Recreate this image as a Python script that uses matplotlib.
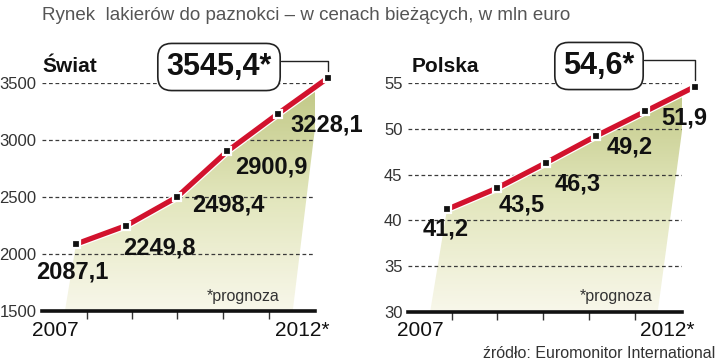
import matplotlib.pyplot as plt
import numpy as np
from matplotlib.patches import Polygon
from matplotlib.colors import LinearSegmentedColormap

# data
swiat = [2087.1, 2249.8, 2498.4, 2900.9, 3228.1, 3545.4]
polska = [41.2, 43.5, 46.3, 49.2, 51.9, 54.6]
swiat_labels = ['2087,1', '2249,8', '2498,4', '2900,9', '3228,1', '3545,4*']
polska_labels = ['41,2', '43,5', '46,3', '49,2', '51,9', '54,6*']
swiat_yticks = [1500, 2000, 2500, 3000, 3500]
polska_yticks = [30, 35, 40, 45, 50, 55]
year_first, year_last = '2007', '2012*'

title = 'Rynek  lakierów do paznokci \u2013 w cenach bieżących, w mln euro'
source = 'źródło: Euromonitor International'

RED = '#d2122d'
SANS = ['Liberation Sans', 'DejaVu Sans']
W, H = 720, 363

fig = plt.figure(figsize=(7.2, 3.63), dpi=100)


def px_box(left, top, right, bottom):
    return [left / W, 1 - bottom / H, (right - left) / W, (bottom - top) / H]


def ftext(x, y, s, **kw):
    fig.text(x / W, 1 - y / H, s, **kw)


cmap = LinearSegmentedColormap.from_list('fill', ['#f8f7ea', '#e2e6bc', '#c0c784'])


def draw_panel(ax, vals, labels, yticks, xlim, offsets, tick_x, fill_x, big_px):
    ax.set_xlim(*xlim)
    ax.set_ylim(yticks[0], yticks[-1])
    x = np.arange(len(vals))
    ymin = yticks[0]

    # gradient fill under the line (skewed shape)
    x_top = fill_x[2]
    v_top = vals[4] + (x_top - 4) * (vals[5] - vals[4])
    poly_x = [fill_x[0]] + list(x[:5]) + [x_top, fill_x[1]]
    poly_y = [ymin] + list(vals[:5]) + [v_top, ymin]
    poly = Polygon(np.column_stack([poly_x, poly_y]), closed=True,
                   facecolor='none', edgecolor='none', transform=ax.transData)
    ax.add_patch(poly)
    grad = np.linspace(1, 0, 200).reshape(-1, 1) * np.ones((1, 20))
    im = ax.imshow(grad, cmap=cmap, aspect='auto', origin='upper',
                   extent=[xlim[0], 5.2, ymin, yticks[-1]], zorder=1)
    im.set_clip_path(poly)
    ax.set_xlim(*xlim)
    ax.set_ylim(yticks[0], yticks[-1])

    # dashed grid
    ax.hlines(yticks[1:], xlim[0], xlim[1], colors='#3a3a3a', linestyles=(0, (3, 2.2)),
              lw=0.9, zorder=2)

    # line
    ax.plot(x, vals, color='white', lw=5.6, solid_capstyle='butt', zorder=3, clip_on=False)
    ax.plot(x, vals, color=RED, lw=3.8, solid_capstyle='butt', zorder=4, clip_on=False)
    ax.plot(x, vals, 's', color='#111111', ms=5.6, mec='white', mew=1.6, zorder=5,
            clip_on=False)

    for i in range(5):
        ax.annotate(labels[i], xy=(x[i], vals[i]), xytext=offsets[i],
                    textcoords='offset pixels', ha='center', va='center',
                    fontsize=17, fontweight='bold', family=SANS, color='#111111',
                    zorder=6, annotation_clip=False)

    ax.annotate(labels[5], xy=(x[5], vals[5]), xytext=big_px, textcoords='figure pixels',
                ha='center', va='center', fontsize=22, fontweight='bold', family=SANS,
                color='#111111', zorder=7, annotation_clip=False,
                bbox=dict(boxstyle='round,pad=0.28,rounding_size=0.45', fc='white',
                          ec='#222222', lw=1.2),
                arrowprops=dict(arrowstyle='-', color='#222222', lw=1,
                                connectionstyle='angle,angleA=0,angleB=90,rad=0',
                                relpos=(1, 0.7), shrinkA=0, shrinkB=5))

    # axes styling
    for s in ['top', 'right', 'left']:
        ax.spines[s].set_visible(False)
    ax.spines['bottom'].set_linewidth(2.6)
    ax.spines['bottom'].set_color('#111111')
    ax.spines['bottom'].set_zorder(6)
    ax.set_yticks(yticks)
    ax.set_yticklabels([str(t) for t in yticks], family=SANS, fontsize=12, color='#333333')
    ax.tick_params(axis='y', length=0, pad=4)
    ax.set_xticks(tick_x)
    ax.set_xticklabels([])
    ax.tick_params(axis='x', direction='out', length=6, width=1, color='#333333')
    ax.set_facecolor('none')


ax1 = fig.add_axes(px_box(42, 83, 315, 311))
draw_panel(ax1, swiat, swiat_labels, swiat_yticks, (-0.675, 4.742),
           [(-4, -28), (33, -22), (52, -8), (44, -16), (49, -11)],
           [0.22, 1.11, 2.0, 2.91, 3.83], (-0.22, 4.3, 4.85), (219, H - 67))

ax2 = fig.add_axes(px_box(408, 83, 682, 312))
draw_panel(ax2, polska, polska_labels, polska_yticks, (-0.786, 4.74),
           [(-1, -20), (25, -17), (32, -21), (34, -11), (39, -7)],
           [0.10, 1.01, 1.94, 2.86, 3.79], (-0.34, 4.25, 4.85), (599, H - 66))

# texts
ftext(42, 15, title, family=SANS, fontsize=13.5, color='#555555', va='center', ha='left')
ftext(42, 66, 'Świat', family=SANS, fontsize=15, fontweight='bold', color='#111111', va='center')
ftext(412, 66, 'Polska', family=SANS, fontsize=15, fontweight='bold', color='#111111', va='center')
for xl, xr in [(55, 302), (420, 667)]:
    ftext(xl, 331, year_first, family=SANS, fontsize=15, color='#111111', ha='center', va='center')
    ftext(xr, 331, year_last, family=SANS, fontsize=15, color='#111111', ha='center', va='center')
ftext(280, 297, '*prognoza', family=SANS, fontsize=11.5, color='#333333', ha='right', va='center')
ftext(653, 297, '*prognoza', family=SANS, fontsize=11.5, color='#333333', ha='right', va='center')
ftext(715, 353, source, family=SANS, fontsize=11.5, color='#333333', ha='right', va='center')

fig.savefig('out.png', dpi=100)
